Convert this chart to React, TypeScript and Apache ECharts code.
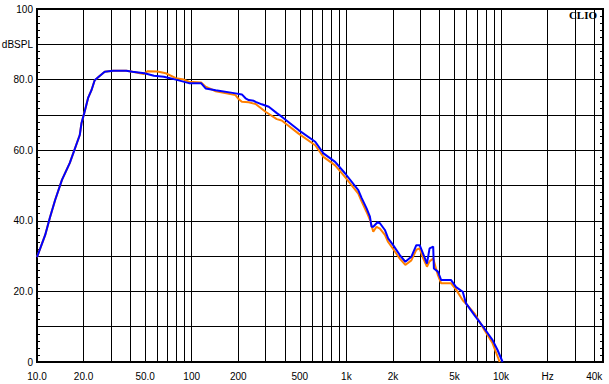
import React, { useEffect, useRef } from "react";
import * as echarts from "echarts";

const blueFreq = [10, 11.3, 12.1, 13.1, 14.5, 16.3, 18.9, 19.4, 20.2, 21.4, 22.5, 23.6, 25.4, 27.4, 31, 37.8, 41.4, 49.5, 57, 66, 79, 96, 115, 123, 143, 192, 211, 223, 234, 252, 259, 284, 315, 355, 382, 491, 629, 711, 846, 982, 1194, 1254, 1351, 1420, 1455, 1492, 1590, 1648, 1774, 1862, 2006, 2215, 2405, 2630, 2833, 2977, 3127, 3318, 3451, 3641, 3680, 3906, 4101, 4754, 5120, 5653, 5937, 6725, 7799, 8815, 9488, 10232];
const blueDb = [29.7, 36, 40.8, 45.9, 51.6, 56.4, 64.3, 67.7, 70.5, 74.8, 77, 79.8, 81, 82.2, 82.5, 82.5, 82.2, 81.8, 81.1, 80.8, 80.0, 79, 79, 77.5, 77, 76.1, 75.8, 74.7, 74.2, 74.0, 73.7, 73.0, 72.3, 70.5, 69.5, 65.7, 62.4, 59.1, 56.7, 53.4, 48.7, 46.5, 43.5, 41.2, 38.3, 38.3, 39.6, 39.3, 37.4, 35, 33.1, 30.3, 28.4, 29.8, 33.1, 33.1, 30.8, 27.9, 32.2, 32.7, 26.5, 25.6, 23.2, 23.2, 21.2, 19.9, 16.6, 13.3, 9.5, 6.2, 3.4, 0];

const orangeFreq = [10, 11.3, 12.1, 13.1, 14.5, 16.3, 18.9, 19.4, 20.2, 21.4, 22.5, 23.6, 25.4, 27.4, 31, 37.8, 41.4, 49, 52, 60, 68, 79, 89, 96, 115, 123, 143, 192, 200, 211, 234, 252, 259, 300, 355, 382, 491, 629, 711, 846, 982, 1194, 1254, 1351, 1420, 1492, 1567, 1648, 1774, 1862, 2006, 2215, 2405, 2630, 2833, 2977, 3127, 3318, 3451, 3641, 3906, 4101, 4754, 5120, 5653, 5937, 6725, 7799, 8815, 9800];
const orangeDb = [29.7, 36, 40.8, 45.9, 51.6, 56.4, 64.3, 67.7, 70.5, 74.8, 77, 79.8, 81, 82.2, 82.5, 82.5, 82.2, 81.6, 82.4, 82.3, 81.8, 80.4, 80, 79.4, 79.2, 78, 76.7, 75.6, 74.6, 73.7, 73.6, 73.2, 73.1, 70.9, 68.8, 68.4, 64.7, 61.4, 58.1, 55.7, 52.4, 47.7, 45.5, 42.5, 40.3, 36.9, 38.3, 37.8, 36, 34, 32, 29.3, 27.5, 28.8, 31.8, 32.2, 29.5, 27, 28.5, 29.3, 24.6, 22.3, 22.3, 20.5, 17.5, 16.5, 13.8, 9.1, 5.3, 0];

const gridFreqs = [10, 20, 30, 40, 50, 60, 70, 80, 90, 100, 200, 300, 400, 500, 600, 700, 800, 900, 1000, 2000, 3000, 4000, 5000, 6000, 7000, 8000, 9000, 10000, 20000, 30000, 40000];
const xLabelFreqs = [10, 20, 50, 100, 200, 500, 1000, 2000, 5000, 10000, 20000, 40000];
const xLabelTexts = ["10.0", "20.0", "50.0", "100", "200", "500", "1k", "2k", "5k", "10k", "Hz", "40k"];
const yLabelValues = [0, 20, 40, 60, 80, 90, 100];
const yLabelTexts = ["0", "20.0", "40.0", "60.0", "80.0", "dBSPL", "100"];

// axis extends a little past 40 kHz (frame margin on the right)
const X_MAX_LOG = 4.659;

const FONT = "Liberation Sans";

export default function App() {
  const ref = useRef<HTMLDivElement>(null);
  useEffect(() => {
    const chart = echarts.init(ref.current!, null, { renderer: "svg" });
    const lg = (f: number) => Math.log10(f);
    const xFmt = (v: number) => {
      for (let i = 0; i < xLabelFreqs.length; i++) {
        if (Math.abs(lg(xLabelFreqs[i]) - v) < 1e-6) return xLabelTexts[i];
      }
      return "";
    };
    const yFmt = (v: number) => {
      const i = yLabelValues.indexOf(Math.round(v));
      return i >= 0 ? yLabelTexts[i] : "";
    };
    chart.setOption({
      animation: false,
      backgroundColor: "#fff",
      grid: {
        left: 37,
        right: 6,
        top: 9,
        bottom: 22,
        outerBoundsMode: "none",
        containLabel: false,
        show: true,
        borderColor: "#000",
        borderWidth: 2,
      },
      xAxis: {
        type: "value",
        min: 1,
        max: X_MAX_LOG,
        axisLine: { show: true, lineStyle: { color: "#000", width: 2 } },
        axisTick: { show: false, customValues: gridFreqs.map(lg) },
        splitLine: { show: true, lineStyle: { color: "#000", width: 1 } },
        axisLabel: {
          customValues: xLabelFreqs.map(lg),
          formatter: xFmt,
          color: "#000",
          fontFamily: FONT,
          fontSize: 10,
          margin: 9,
        },
      },
      yAxis: [
        {
          type: "value",
          min: 0,
          max: 100,
          interval: 10,
          position: "left",
          axisLine: { show: true, lineStyle: { color: "#000", width: 2 } },
          axisTick: { show: true, inside: true, length: 3, lineStyle: { color: "#000" } },
          minorTick: { show: true, splitNumber: 5, length: 3, lineStyle: { color: "#000" } },
          splitLine: { show: true, lineStyle: { color: "#000", width: 1 } },
          axisLabel: {
            formatter: yFmt,
            color: "#000",
            fontFamily: FONT,
            fontSize: 10,
            margin: 4,
            showMinLabel: true,
            showMaxLabel: true,
          },
        },
        {
          type: "value",
          min: 0,
          max: 100,
          interval: 10,
          position: "right",
          axisLine: { show: true, lineStyle: { color: "#000", width: 2 } },
          axisTick: { show: true, inside: true, length: 3, lineStyle: { color: "#000" } },
          minorTick: { show: true, splitNumber: 5, length: 3, lineStyle: { color: "#000" } },
          splitLine: { show: false },
          axisLabel: { show: false },
        },
      ],
      graphic: [
        {
          type: "text",
          right: 12,
          top: 9,
          z: 100,
          style: {
            text: "CLIO",
            font: 'bold 11px "Liberation Serif"',
            fill: "#000",
          },
        },
      ],
      series: [
        {
          name: "orange",
          type: "line",
          showSymbol: false,
          data: orangeFreq.map((f, i) => [lg(f), orangeDb[i]]),
          lineStyle: { color: "#ff8000", width: 2 },
          z: 3,
        },
        {
          name: "blue",
          type: "line",
          showSymbol: false,
          data: blueFreq.map((f, i) => [lg(f), blueDb[i]]),
          lineStyle: { color: "#0000ff", width: 2 },
          z: 4,
        },
      ],
    });
    return () => chart.dispose();
  }, []);
  return (
    <div
      ref={ref}
      style={{ position: "absolute", left: 0, top: 0, width: 609, height: 384 }}
    />
  );
}
